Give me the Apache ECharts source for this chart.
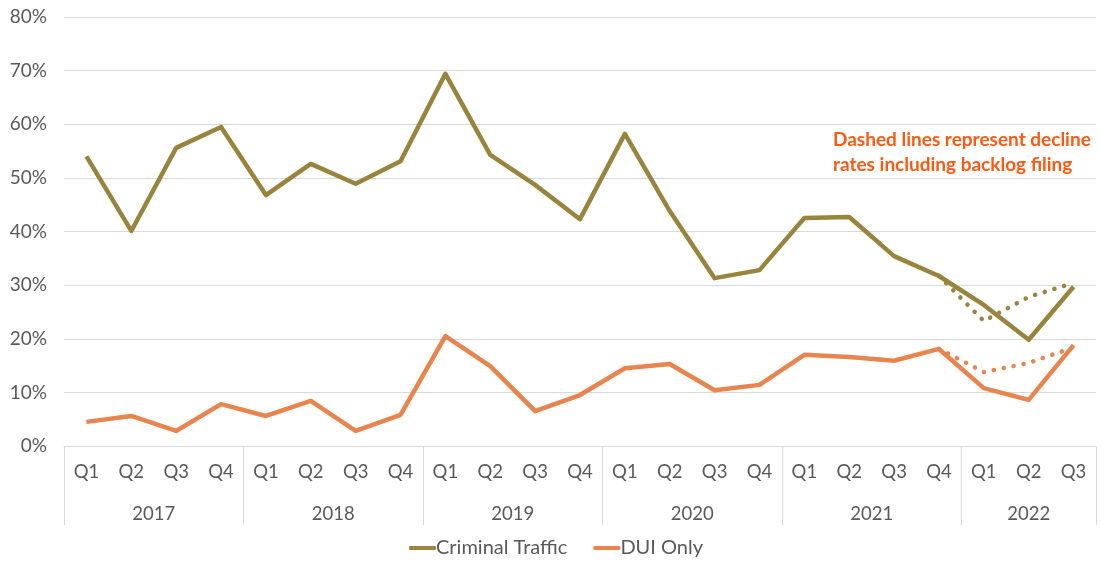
<!DOCTYPE html>
<html>
<head>
<meta charset="utf-8">
<script src="https://cdn.jsdelivr.net/npm/echarts@6/dist/echarts.min.js"></script>
<style>
  html, body { margin: 0; padding: 0; background: #fff; }
  #chart { width: 1101px; height: 562px; }
</style>
</head>
<body>
<div id="chart"></div>
<script>
// quarters 2017 Q1 .. 2022 Q3
var quarters = ['Q1','Q2','Q3','Q4','Q1','Q2','Q3','Q4','Q1','Q2','Q3','Q4',
                'Q1','Q2','Q3','Q4','Q1','Q2','Q3','Q4','Q1','Q2','Q3'];
var years = ['2017', '2018', '2019', '2020', '2021', '2022'];
// year group borders and centres, measured in quarter units
var yearBorders = [0, 4, 8, 12, 16, 20, 23];
var yearCentres = [2, 6, 10, 14, 18, 21.5];

var criminalTraffic = [54.0, 40.1, 55.6, 59.5, 46.8, 52.6, 48.9, 53.1, 69.4, 54.3, 48.7, 42.3,
                       58.2, 43.8, 31.3, 32.8, 42.5, 42.7, 35.4, 31.7, 26.3, 19.8, 29.7];
var duiOnly = [4.5, 5.6, 2.8, 7.8, 5.6, 8.4, 2.8, 5.8, 20.5, 14.9, 6.5, 9.5,
               14.5, 15.3, 10.4, 11.4, 17.0, 16.6, 15.9, 18.1, 10.8, 8.6, 18.8];
// rates including backlog filing (dotted), from 2021 Q4
var criminalBacklog = [null, null, null, null, null, null, null, null, null, null, null, null,
                       null, null, null, null, null, null, null, 31.7, 23.3, 27.8, 30.4];
var duiBacklog = [null, null, null, null, null, null, null, null, null, null, null, null,
                  null, null, null, null, null, null, null, 18.1, 13.8, 15.5, 18.4];

var OLIVE = '#98843C';
var ORANGE = '#E8854E';
var TEXT = '#595959';
var FONT = 'Lato';

function solid(name, data, color) {
    return {
        name: name,
        type: 'line',
        data: data,
        symbol: 'none',
        z: 3,
        lineStyle: { color: color, width: 4.5, join: 'round' },
        itemStyle: { color: color }
    };
}

function dotted(name, data, color) {
    return {
        name: name,
        type: 'line',
        data: data,
        symbol: 'none',
        z: 2,
        lineStyle: { color: color, width: 4.5, type: [0.1, 10], cap: 'round' },
        itemStyle: { color: color }
    };
}

var chart = echarts.init(document.getElementById('chart'));

var option = {
    animation: false,
    textStyle: { fontFamily: FONT },
    grid: { left: 64, right: 5, top: 17, bottom: 116 },
    legend: {
        data: ['Criminal Traffic', 'DUI Only'],
        bottom: -1,
        left: 404,
        icon: 'roundRect',
        itemWidth: 27,
        itemHeight: 4,
        itemGap: 26,
        textStyle: { color: TEXT, fontSize: 20, fontFamily: FONT, padding: [0, 0, 0, -5] }
    },
    xAxis: [{
        type: 'category',
        data: quarters,
        boundaryGap: true,
        axisLine: { lineStyle: { color: '#d9d9d9', width: 1 } },
        axisTick: { show: false },
        axisLabel: { color: TEXT, fontSize: 18.5, margin: 17, interval: 0 }
    }, {
        type: 'value',
        position: 'bottom',
        min: 0,
        max: 23,
        splitLine: { show: false },
        axisLine: { show: false },
        axisTick: {
            show: true,
            customValues: yearBorders,
            length: 79,
            lineStyle: { color: '#d9d9d9', width: 1 }
        },
        axisLabel: {
            customValues: yearCentres,
            color: TEXT,
            fontSize: 18.5,
            margin: 59,
            formatter: function(v) {
                return years[yearCentres.indexOf(v)];
            }
        }
    }],
    yAxis: {
        type: 'value',
        min: 0,
        max: 80,
        interval: 10,
        axisLine: { show: false },
        axisTick: { show: false },
        splitLine: { lineStyle: { color: '#d9d9d9', width: 1 } },
        axisLabel: { color: TEXT, fontSize: 19, margin: 17, formatter: '{value}%' }
    },
    graphic: [{
        type: 'text',
        left: 833,
        top: 127,
        style: {
            text: 'Dashed lines represent decline\nrates including backlog filing',
            fill: '#FF5A14',
            font: 'bold 19px ' + FONT,
            lineHeight: 25
        }
    }],
    series: [
        solid('Criminal Traffic', criminalTraffic, OLIVE),
        solid('DUI Only', duiOnly, ORANGE),
        dotted('Criminal Traffic incl. backlog', criminalBacklog, OLIVE),
        dotted('DUI Only incl. backlog', duiBacklog, ORANGE)
    ]
};

chart.setOption(option);
</script>
</body>
</html>
